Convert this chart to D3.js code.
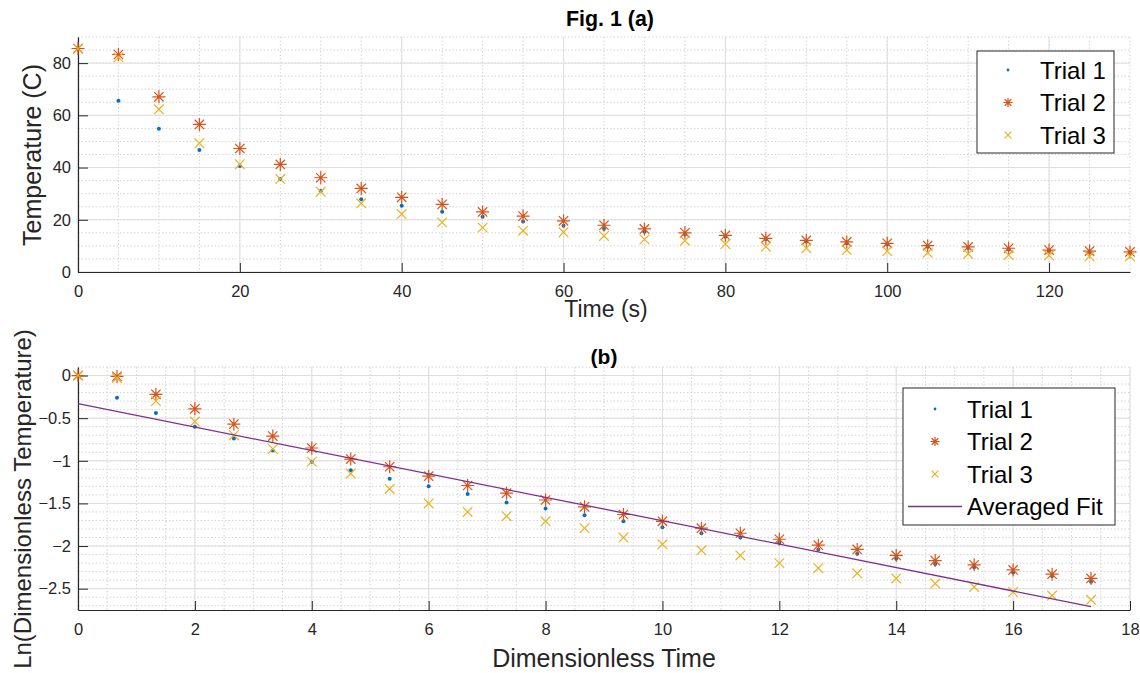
<!DOCTYPE html>
<html>
<head>
<meta charset="utf-8">
<script src="https://cdn.jsdelivr.net/npm/d3@7"></script>
<style>
  html, body { margin: 0; padding: 0; background: #fff; }
  svg { display: block; font-family: "Liberation Sans", Arial, sans-serif; }
</style>
</head>
<body>
<svg id="chart" width="1140" height="673"></svg>
<script>
// Cooling experiment: raw temperatures (a) and log of dimensionless temperature (b)
const timeS = [0, 5, 10, 15, 20, 25, 30, 35, 40, 45, 50, 55, 60, 65, 70, 75, 80, 85, 90, 95, 100, 105, 110, 115, 120, 125, 130];
const tempTrial1 = [85.5, 65.6, 54.9, 46.7, 40.6, 35.6, 31.0, 27.9, 25.4, 23.1, 21.2, 19.3, 17.7, 16.6, 15.4, 14.5, 13.5, 12.5, 11.7, 11.0, 10.5, 9.7, 9.2, 8.7, 8.1, 7.7, 7.3];
const tempTrial2 = [85.6, 83.3, 67.1, 56.5, 47.3, 41.2, 36.1, 32.0, 28.6, 25.9, 23.0, 21.4, 19.6, 17.9, 16.5, 15.0, 14.0, 12.9, 12.1, 11.5, 11.0, 10.1, 9.6, 9.1, 8.4, 8.0, 7.7];
const tempTrial3 = [85.5, 82.2, 62.3, 49.3, 41.3, 35.6, 30.7, 26.3, 22.2, 19.0, 17.0, 15.8, 15.2, 13.8, 12.5, 12.0, 10.7, 9.7, 9.1, 8.4, 8.0, 7.4, 6.9, 6.5, 6.4, 6.0, 6.0];

const dimTime = [0, 0.667, 1.333, 2, 2.667, 3.333, 4, 4.667, 5.333, 6, 6.667, 7.333, 8, 8.667, 9.333, 10, 10.667, 11.333, 12, 12.667, 13.333, 14, 14.667, 15.333, 16, 16.667, 17.333];
const lnTrial1 = [0, -0.26, -0.44, -0.60, -0.74, -0.88, -1.01, -1.11, -1.21, -1.30, -1.39, -1.49, -1.56, -1.64, -1.71, -1.78, -1.85, -1.90, -1.96, -2.04, -2.09, -2.15, -2.21, -2.25, -2.31, -2.35, -2.42];
const lnTrial2 = [0, -0.01, -0.22, -0.39, -0.57, -0.71, -0.85, -0.98, -1.07, -1.18, -1.29, -1.38, -1.46, -1.54, -1.63, -1.71, -1.79, -1.85, -1.92, -1.99, -2.04, -2.11, -2.17, -2.22, -2.28, -2.33, -2.38];
const lnTrial3 = [0, -0.03, -0.30, -0.54, -0.70, -0.86, -1.01, -1.15, -1.33, -1.50, -1.60, -1.65, -1.71, -1.79, -1.90, -1.98, -2.05, -2.11, -2.20, -2.26, -2.32, -2.38, -2.44, -2.48, -2.54, -2.58, -2.63];

// Averaged linear fit, endpoints
const fitX = [0, 17.333];
const fitY = [-0.33, -2.71];

const ticksA_x = [0, 20, 40, 60, 80, 100, 120];
const ticksA_y = [0, 20, 40, 60, 80];
const ticksB_x = [0, 2, 4, 6, 8, 10, 12, 14, 16, 18];
const ticksB_y = [0, -0.5, -1, -1.5, -2, -2.5];

const seriesNames = ["Trial 1", "Trial 2", "Trial 3"];
const fitName = "Averaged Fit";

const colors = ["#0072BD", "#D95319", "#EDB120"];
const fitColor = "#7E2F8E";
const axisColor = "#262626";

const svg = d3.select("#chart");
const left = 78, right = 1130;

// Marker shapes
function markerPath(kind, r) {
  if (kind === "star") {
    const d = r * 0.72;
    return `M${-r},0L${r},0M0,${-r}L0,${r}M${-d},${-d}L${d},${d}M${-d},${d}L${d},${-d}`;
  }
  return `M${-r},${-r}L${r},${r}M${-r},${r}L${r},${-r}`;
}
function drawMarker(g, kind, color, x, y, scale = 1) {
  if (kind === "dot") {
    g.append("circle").attr("cx", x).attr("cy", y).attr("r", 2 * scale).attr("fill", color);
  } else if (kind === "star") {
    g.append("path").attr("transform", `translate(${x},${y})`).attr("d", markerPath("star", 6.5 * scale))
      .attr("stroke", color).attr("stroke-width", 1.2).attr("fill", "none");
  } else {
    g.append("path").attr("transform", `translate(${x},${y})`).attr("d", markerPath("x", 4.8 * scale))
      .attr("stroke", color).attr("stroke-width", 1.2).attr("fill", "none");
  }
}
const kinds = ["dot", "star", "x"];

function panel(opts) {
  const { x, y, xMinor, yMinor, xTicks, yTicks, yFmt, top, bottom } = opts;
  const g = svg.append("g");
  // minor grid (dotted)
  const gridMinor = g.append("g").attr("stroke", "#d4d4d4").attr("stroke-width", 1).attr("stroke-dasharray", "1.5,2");
  xMinor.forEach(v => gridMinor.append("line").attr("x1", x(v)).attr("x2", x(v)).attr("y1", top).attr("y2", bottom));
  yMinor.forEach(v => gridMinor.append("line").attr("y1", y(v)).attr("y2", y(v)).attr("x1", left).attr("x2", right));
  // major grid (solid)
  const gridMajor = g.append("g").attr("stroke", "#dedede").attr("stroke-width", 1);
  xTicks.forEach(v => gridMajor.append("line").attr("x1", x(v)).attr("x2", x(v)).attr("y1", top).attr("y2", bottom));
  yTicks.forEach(v => gridMajor.append("line").attr("y1", y(v)).attr("y2", y(v)).attr("x1", left).attr("x2", right));

  // axes with inward ticks
  const xAxis = d3.axisBottom(x).tickValues(xTicks).tickSizeInner(-9).tickSizeOuter(0).tickPadding(13).tickFormat(d3.format("d"));
  const gx = g.append("g").attr("transform", `translate(0,${bottom})`).call(xAxis);
  const yAxis = d3.axisLeft(y).tickValues(yTicks).tickSizeInner(-10).tickSizeOuter(0).tickPadding(7).tickFormat(yFmt);
  const gy = g.append("g").attr("transform", `translate(${left},0)`).call(yAxis);
  [gx, gy].forEach(a => {
    a.attr("font-size", null).attr("font-family", null);
    a.select(".domain").attr("stroke", axisColor).attr("stroke-width", 1.2);
    a.selectAll(".tick line").attr("stroke", axisColor).attr("stroke-width", 1);
    a.selectAll(".tick text").attr("fill", axisColor).style("font-size", "16.5px")
      .style("font-family", "'Liberation Sans', Arial, sans-serif");
  });
  return g;
}

// ---------- Panel (a) ----------
const aTop = 37, aBottom = 272;
const xA = d3.scaleLinear().domain([0, 130]).range([left, right]);
const yA = d3.scaleLinear().domain([0, 90]).range([aBottom, aTop]);
panel({
  x: xA, y: yA, top: aTop, bottom: aBottom,
  xTicks: ticksA_x, yTicks: ticksA_y,
  xMinor: d3.range(0, 131, 5), yMinor: d3.range(0, 91, 5),
  yFmt: d3.format("d")
});
const dataA = [tempTrial1, tempTrial2, tempTrial3];
const gA = svg.append("g");
dataA.forEach((vals, si) => {
  vals.forEach((v, i) => drawMarker(gA, kinds[si], colors[si], xA(timeS[i]), yA(v)));
});

svg.append("text").attr("x", 610).attr("y", 26).attr("text-anchor", "middle")
  .attr("font-size", 22).attr("font-weight", "bold").attr("fill", "#000")
  .attr("textLength", 88).attr("lengthAdjust", "spacingAndGlyphs").text("Fig. 1 (a)");
svg.append("text").attr("x", 606).attr("y", 317).attr("text-anchor", "middle")
  .attr("font-size", 23).attr("fill", axisColor).text("Time (s)");
svg.append("text").attr("transform", `translate(41,155) rotate(-90)`).attr("text-anchor", "middle")
  .attr("font-size", 25).attr("fill", axisColor).text("Temperature (C)");

// legend (a)
const legA = svg.append("g");
legA.append("rect").attr("x", 977).attr("y", 51).attr("width", 137).attr("height", 102)
  .attr("fill", "#fff").attr("stroke", axisColor).attr("stroke-width", 1);
seriesNames.forEach((name, i) => {
  const cy = 70 + i * 32.5;
  drawMarker(legA, kinds[i], colors[i], 1008, cy, 0.7);
  legA.append("text").attr("x", 1040).attr("y", cy + 8.5).attr("font-size", 24).attr("fill", "#000").text(name);
});

// ---------- Panel (b) ----------
const bTop = 367, bBottom = 610;
const xB = d3.scaleLinear().domain([0, 18]).range([left, right]);
const yB = d3.scaleLinear().domain([-2.75, 0.1]).range([bBottom, bTop]);
panel({
  x: xB, y: yB, top: bTop, bottom: bBottom,
  xTicks: ticksB_x, yTicks: ticksB_y,
  xMinor: d3.range(0, 18.01, 0.5), yMinor: d3.range(-27, 2).map(k => k / 10),
  yFmt: d => d3.format("")(d)
});
const dataB = [lnTrial1, lnTrial2, lnTrial3];
const gB = svg.append("g");
dataB.forEach((vals, si) => {
  vals.forEach((v, i) => drawMarker(gB, kinds[si], colors[si], xB(dimTime[i]), yB(v)));
});
gB.append("path")
  .datum(fitX.map((v, i) => [v, fitY[i]]))
  .attr("d", d3.line().x(d => xB(d[0])).y(d => yB(d[1])))
  .attr("stroke", fitColor).attr("stroke-width", 1.3).attr("fill", "none");

svg.append("text").attr("x", 604).attr("y", 364).attr("text-anchor", "middle")
  .attr("font-size", 21).attr("font-weight", "bold").attr("fill", "#000").text("(b)");
svg.append("text").attr("x", 604).attr("y", 667).attr("text-anchor", "middle")
  .attr("font-size", 25).attr("fill", axisColor).text("Dimensionless Time");
svg.append("text").attr("transform", `translate(31,499) rotate(-90)`).attr("text-anchor", "middle")
  .attr("font-size", 24).attr("fill", axisColor).text("Ln(Dimensionless Temperature)");

// legend (b)
const legB = svg.append("g");
legB.append("rect").attr("x", 903).attr("y", 388).attr("width", 212).attr("height", 137)
  .attr("fill", "#fff").attr("stroke", axisColor).attr("stroke-width", 1);
seriesNames.forEach((name, i) => {
  const cy = 409 + i * 32.5;
  drawMarker(legB, kinds[i], colors[i], 935, cy, 0.7);
  legB.append("text").attr("x", 967).attr("y", cy + 8.5).attr("font-size", 24).attr("fill", "#000").text(name);
});
{
  const cy = 409 + 3 * 32.5;
  legB.append("line").attr("x1", 908).attr("x2", 962).attr("y1", cy).attr("y2", cy)
    .attr("stroke", fitColor).attr("stroke-width", 1.3);
  legB.append("text").attr("x", 967).attr("y", cy + 8.5).attr("font-size", 24).attr("fill", "#000").text(fitName);
}
</script>
</body>
</html>
